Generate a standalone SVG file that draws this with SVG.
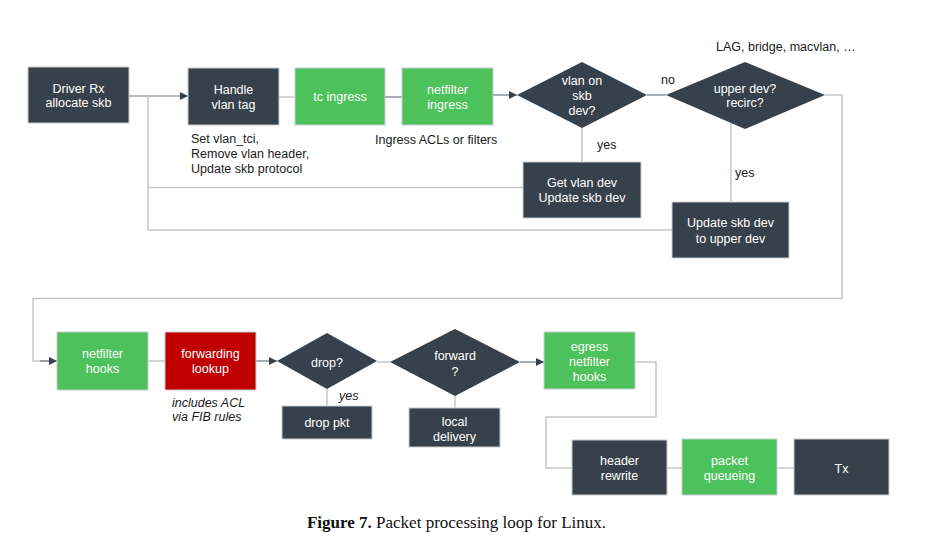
<svg xmlns="http://www.w3.org/2000/svg" width="933" height="551" viewBox="0 0 933 551">
<style>
.dark{fill:#37414b;stroke:#c9ccd0;stroke-width:1}
.green{fill:#4dc15b;stroke:#c9ccd0;stroke-width:1}
.red{fill:#c00000;stroke:#c9ccd0;stroke-width:1}
.dia{fill:#37414b}
.t{font-family:"Liberation Sans",Arial,sans-serif;font-size:12.5px;fill:#ffffff;text-anchor:middle}
.l{font-family:"Liberation Sans",Arial,sans-serif;font-size:12.5px;fill:#1a1a1a}
.i{font-style:italic}
.c{fill:none;stroke:#c3c7cb;stroke-width:1.5}
.a{fill:none;stroke:#6f767d;stroke-width:1.2}
.cap{font-family:"Liberation Serif","Times New Roman",serif;font-size:17px;fill:#111;text-anchor:middle}
</style>
<defs>
<marker id="ah" viewBox="0 0 10 10" refX="10" refY="5" markerWidth="8" markerHeight="8" markerUnits="userSpaceOnUse" orient="auto">
<path d="M0,0 L10,5 L0,10 z" fill="#37414b"/>
</marker>
</defs>
<rect width="933" height="551" fill="#ffffff"/>
<g id="connectors">
<line class="a" x1="129" y1="96" x2="188" y2="96" marker-end="url(#ah)"/>
<line class="c" x1="279" y1="97" x2="295" y2="97"/>
<line class="a" x1="385" y1="97" x2="402" y2="97"/>
<line class="a" x1="493" y1="95" x2="517" y2="95" marker-end="url(#ah)"/>
<line class="a" x1="647" y1="95" x2="666" y2="95"/>
<line class="c" x1="582" y1="128" x2="582" y2="162"/>
<line class="c" x1="731" y1="123" x2="731" y2="202"/>
<line class="c" x1="523" y1="187.5" x2="148" y2="187.5"/>
<line class="c" x1="672" y1="230" x2="148" y2="230"/>
<line class="c" x1="148" y1="96" x2="148" y2="230"/>
<polyline class="c" points="825,95 842,95 842,298.5 33,298.5 33,361 50,361"/>
<line class="a" x1="40" y1="361" x2="57" y2="361" marker-end="url(#ah)"/>
<line class="c" x1="148" y1="361" x2="165" y2="361"/>
<line class="a" x1="256" y1="361" x2="277" y2="361" marker-end="url(#ah)"/>
<line class="c" x1="377" y1="362" x2="390" y2="362"/>
<line class="c" x1="327" y1="389" x2="327" y2="406"/>
<line class="c" x1="455" y1="396" x2="455" y2="408"/>
<line class="a" x1="520" y1="362" x2="544" y2="362" marker-end="url(#ah)"/>
<polyline class="c" points="635,362 656,362 656,417 546,417 546,468 572,468"/>
<line class="c" x1="667" y1="468" x2="682" y2="468"/>
<line class="c" x1="777" y1="468" x2="794" y2="468"/>
</g>
<g id="driver-rx"><rect class="dark" x="28" y="67" width="101" height="56"/><text class="t" x="78.5" y="92.5">Driver Rx</text><text class="t" x="78.5" y="107">allocate skb</text></g>
<g id="handle-vlan"><rect class="dark" x="188" y="68" width="91" height="57"/><text class="t" x="233.5" y="94">Handle</text><text class="t" x="233.5" y="108.5">vlan tag</text></g>
<g id="tc-ingress"><rect class="green" x="295" y="68" width="90" height="57"/><text class="t" x="340" y="101">tc ingress</text></g>
<g id="netfilter-ingress"><rect class="green" x="402" y="68" width="91" height="57"/><text class="t" x="447.5" y="94">netfilter</text><text class="t" x="447.5" y="108.5">ingress</text></g>
<g id="vlan-note"><text class="l" x="191" y="143">Set vlan_tci,</text><text class="l" x="191" y="157.5">Remove vlan header,</text><text class="l" x="191" y="172.5">Update skb protocol</text></g>
<g id="acl-note"><text class="l" x="375" y="143.5">Ingress ACLs or filters</text></g>
<g id="vlan-on-dev"><polygon class="dia" points="517,95 582,62 647,95 582,128"/><text class="t" x="582" y="85">vlan on</text><text class="t" x="582" y="99.5">skb</text><text class="t" x="582" y="114.5">dev?</text></g>
<g id="no-label"><text class="l" x="661" y="83.5">no</text></g>
<g id="upper-dev"><polygon class="dia" points="666,95 745,62 825,95 745,129"/><text class="t" x="745" y="92.5">upper dev?</text><text class="t" x="745" y="107">recirc?</text></g>
<g id="lag-note"><text class="l" x="716" y="50.5">LAG, bridge, macvlan, …</text></g>
<g id="yes1"><text class="l" x="597" y="148.5">yes</text></g>
<g id="yes2"><text class="l" x="735" y="177">yes</text></g>
<g id="get-vlan-dev"><rect class="dark" x="523" y="162" width="118" height="56"/><text class="t" x="582" y="187">Get vlan dev</text><text class="t" x="582" y="201.5">Update skb dev</text></g>
<g id="update-upper"><rect class="dark" x="672" y="202" width="117" height="56"/><text class="t" x="730.5" y="227">Update skb dev</text><text class="t" x="730.5" y="242.5">to upper dev</text></g>
<g id="netfilter-hooks"><rect class="green" x="57" y="332" width="91" height="58"/><text class="t" x="102.5" y="357.5">netfilter</text><text class="t" x="102.5" y="373">hooks</text></g>
<g id="forwarding-lookup"><rect class="red" x="165" y="332" width="91" height="58"/><text class="t" x="210.5" y="357.5">forwarding</text><text class="t" x="210.5" y="373">lookup</text></g>
<g id="fib-note"><text class="l i" x="172" y="406.5">includes ACL</text><text class="l i" x="172" y="421">via FIB rules</text></g>
<g id="drop"><polygon class="dia" points="277,361 327,333 377,361 327,389"/><text class="t" x="327" y="367">drop?</text></g>
<g id="yes3"><text class="l i" x="339" y="399.5">yes</text></g>
<g id="drop-pkt"><rect class="dark" x="282" y="406" width="90" height="33"/><text class="t" x="327" y="427">drop pkt</text></g>
<g id="forward"><polygon class="dia" points="390,362 455,329 520,362 455,396"/><text class="t" x="455" y="360">forward</text><text class="t" x="455" y="375.5">?</text></g>
<g id="local-delivery"><rect class="dark" x="409" y="408" width="91" height="39"/><text class="t" x="454.5" y="425.5">local</text><text class="t" x="454.5" y="440.5">delivery</text></g>
<g id="egress-netfilter"><rect class="green" x="544" y="332" width="91" height="57"/><text class="t" x="589.5" y="350.5">egress</text><text class="t" x="589.5" y="365.5">netfilter</text><text class="t" x="589.5" y="380.5">hooks</text></g>
<g id="header-rewrite"><rect class="dark" x="572" y="440" width="95" height="55"/><text class="t" x="619.5" y="464.5">header</text><text class="t" x="619.5" y="479.5">rewrite</text></g>
<g id="packet-queueing"><rect class="green" x="682" y="439" width="95" height="56"/><text class="t" x="729.5" y="464.5">packet</text><text class="t" x="729.5" y="479.5">queueing</text></g>
<g id="tx"><rect class="dark" x="794" y="439" width="95" height="56"/><text class="t" x="841.5" y="473">Tx</text></g>
<g id="caption"><text class="cap" x="456.5" y="528"><tspan font-weight="bold">Figure 7.</tspan> Packet processing loop for Linux.</text></g>
</svg>
